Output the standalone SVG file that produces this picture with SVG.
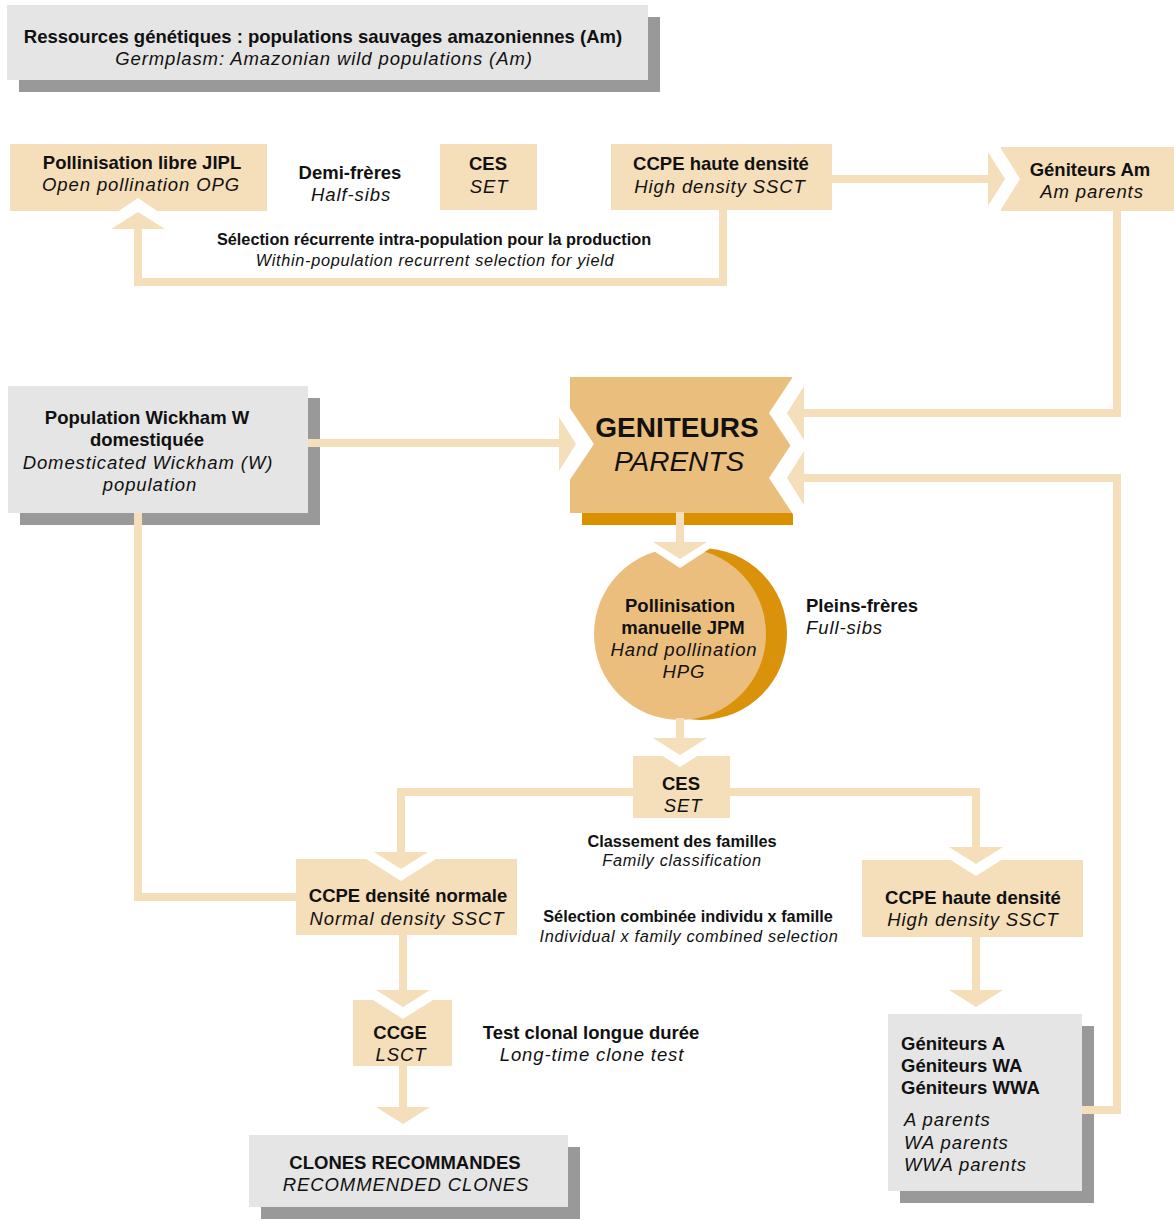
<svg xmlns="http://www.w3.org/2000/svg" width="1174" height="1221" viewBox="0 0 1174 1221">
<style>
.t{font-family:"Liberation Sans",Arial,sans-serif;font-size:18.5px;fill:#111;text-anchor:middle}
.b{font-weight:bold}
.i{font-style:italic;letter-spacing:0.9px}
.s{font-size:16.3px}
.s.i{letter-spacing:0.7px}
.l{text-anchor:start}
.big{font-size:28px;letter-spacing:0}
.box{fill:#f5deba}
.gbox{fill:#e5e5e5}
.sh{fill:#999}
.ln{fill:none;stroke:#f5deba;stroke-width:8;stroke-linejoin:miter;stroke-linecap:butt}
.ah{fill:#f5deba}
.wh{fill:#fff}
</style>
<rect width="1174" height="1221" fill="#fff"/>
<g id="n-title">
<rect class="sh" x="19" y="17" width="641" height="75"/>
<rect class="gbox" x="7" y="5" width="641" height="75"/>
<text class="t b" x="323" y="43">Ressources génétiques : populations sauvages amazoniennes (Am)</text>
<text class="t i" x="324" y="65">Germplasm: Amazonian wild populations (Am)</text>
</g>
<g id="n-jipl">
<rect class="box" x="10" y="144" width="257" height="67"/>
<text class="t b" x="142" y="169">Pollinisation libre JIPL</text>
<text class="t i" x="141" y="191">Open pollination OPG</text>
</g>
<g id="l-demi">
<text class="t b" x="350" y="179">Demi-frères</text>
<text class="t i" x="351" y="201">Half-sibs</text>
</g>
<g id="n-ces-top">
<rect class="box" x="440" y="144" width="97" height="66"/>
<text class="t b" x="488" y="170">CES</text>
<text class="t i" x="489" y="193">SET</text>
</g>
<g id="n-ccpe-top">
<rect class="box" x="611" y="144" width="221" height="66"/>
<text class="t b" x="721" y="170">CCPE haute densité</text>
<text class="t i" x="720" y="193">High density SSCT</text>
</g>
<g id="n-am">
<rect class="box" x="1001" y="147" width="173" height="64"/>
<text class="t b" x="1090" y="176">Géniteurs Am</text>
<text class="t i" x="1092" y="198">Am parents</text>
</g>
<g id="l-recurrent">
<text class="t b s" x="434" y="245">Sélection récurrente intra-population pour la production</text>
<text class="t i s" x="435" y="266">Within-population recurrent selection for yield</text>
</g>
<g id="n-wickham">
<rect class="sh" x="20" y="398" width="300" height="127"/>
<rect class="gbox" x="8" y="386" width="300" height="127"/>
<text class="t b" x="147" y="424">Population Wickham W</text>
<text class="t b" x="147" y="446">domestiquée</text>
<text class="t i" x="148" y="469">Domesticated Wickham (W)</text>
<text class="t i" x="150" y="491">population</text>
</g>
<g id="n-geniteurs">
<rect x="582" y="512" width="211" height="13" fill="#d99100"/>
<rect x="570" y="377" width="222" height="136" fill="#eabe7c"/>
<text class="t b big" x="677" y="437">GENITEURS</text>
<text class="t i big" x="679" y="471">PARENTS</text>
</g>
<g id="n-jpm">
<circle cx="701" cy="634" r="86" fill="#d9920a"/>
<circle cx="680" cy="634" r="86" fill="#ebbe7d"/>
<text class="t b" x="680" y="612">Pollinisation</text>
<text class="t b" x="683" y="634">manuelle JPM</text>
<text class="t i" x="684" y="656">Hand pollination</text>
<text class="t i" x="684" y="678">HPG</text>
</g>
<g id="l-pleins">
<text class="t b l" x="806" y="612">Pleins-frères</text>
<text class="t i l" x="806" y="634">Full-sibs</text>
</g>
<g id="n-ces-mid">
<rect class="box" x="633" y="756" width="97" height="62"/>
<text class="t b" x="681" y="790">CES</text>
<text class="t i" x="683" y="812">SET</text>
</g>
<g id="l-classement">
<text class="t b s" x="682" y="847">Classement des familles</text>
<text class="t i s" x="682" y="866">Family classification</text>
</g>
<g id="n-ccpe-normal">
<rect class="box" x="296" y="859" width="221" height="76"/>
<text class="t b" x="408" y="902">CCPE densité normale</text>
<text class="t i" x="407" y="925">Normal density SSCT</text>
</g>
<g id="l-combinee">
<text class="t b s" x="688" y="922">Sélection combinée individu x famille</text>
<text class="t i s" x="689" y="942">Individual x family combined selection</text>
</g>
<g id="n-ccpe-high">
<rect class="box" x="862" y="860" width="221" height="77"/>
<text class="t b" x="973" y="904">CCPE haute densité</text>
<text class="t i" x="973" y="926">High density SSCT</text>
</g>
<g id="n-ccge">
<rect class="box" x="353" y="1000" width="99" height="66"/>
<text class="t b" x="400" y="1039">CCGE</text>
<text class="t i" x="401" y="1061">LSCT</text>
</g>
<g id="l-test">
<text class="t b" x="591" y="1039">Test clonal longue durée</text>
<text class="t i" x="592" y="1061">Long-time clone test</text>
</g>
<g id="n-clones">
<rect class="sh" x="261" y="1147" width="319" height="72"/>
<rect class="gbox" x="249" y="1135" width="319" height="72"/>
<text class="t b" x="405" y="1169">CLONES RECOMMANDES</text>
<text class="t i" x="406" y="1191">RECOMMENDED CLONES</text>
</g>
<g id="n-geniteurs-a">
<rect class="sh" x="900" y="1026" width="194" height="177"/>
<rect class="gbox" x="888" y="1014" width="194" height="177"/>
<text class="t b l" x="901" y="1050">Géniteurs A</text>
<text class="t b l" x="901" y="1072">Géniteurs WA</text>
<text class="t b l" x="901" y="1094">Géniteurs WWA</text>
<text class="t i l" x="904" y="1126">A parents</text>
<text class="t i l" x="904" y="1149">WA parents</text>
<text class="t i l" x="904" y="1171">WWA parents</text>
</g>
<g id="connectors">
<path class="ln" d="M723,210 V282 H138 V229"/>
<path class="ln" d="M832,179 H988"/>
<path class="ln" d="M1117,211 V413 H804"/>
<path class="ln" d="M308,443 H559"/>
<path class="ln" d="M138,513 V897 H296"/>
<path class="ln" d="M680,512 V542"/>
<path class="ln" d="M680,718 V738"/>
<path class="ln" d="M633,792 H401 V852"/>
<path class="ln" d="M730,792 H976 V847"/>
<path class="ln" d="M403,935 V990"/>
<path class="ln" d="M403,1066 V1107"/>
<path class="ln" d="M976,937 V990"/>
<path class="ln" d="M1082,1110 H1117 V478 H804"/>
<polygon class="wh" points="92,229 184,229 138,198"/>
<polygon class="wh" points="988,128 988,230 1020,179"/>
<polygon class="wh" points="559,392 559,496 594,444"/>
<polygon class="wh" points="804,360 804,466 769,413"/>
<polygon class="wh" points="804,425 804,531 769,478"/>
<polygon class="wh" points="640,542 720,542 680,568"/>
<polygon class="wh" points="634,738 726,738 680,767"/>
<polygon class="wh" points="355,852 447,852 401,881"/>
<polygon class="wh" points="930,847 1022,847 976,876"/>
<polygon class="wh" points="357,990 449,990 403,1019"/>
<polygon class="ah" points="111,229 165,229 138,212"/>
<polygon class="ah" points="988,152 988,206 1005,179"/>
<polygon class="ah" points="559,417 559,471 576,444"/>
<polygon class="ah" points="804,386 804,440 787,413"/>
<polygon class="ah" points="804,451 804,505 787,478"/>
<polygon class="ah" points="653,542 707,542 680,559"/>
<polygon class="ah" points="653,738 707,738 680,755"/>
<polygon class="ah" points="374,852 428,852 401,869"/>
<polygon class="ah" points="949,847 1003,847 976,864"/>
<polygon class="ah" points="376,990 430,990 403,1007"/>
<polygon class="ah" points="376,1107 430,1107 403,1124"/>
<polygon class="ah" points="949,990 1003,990 976,1007"/>
</g>
</svg>
